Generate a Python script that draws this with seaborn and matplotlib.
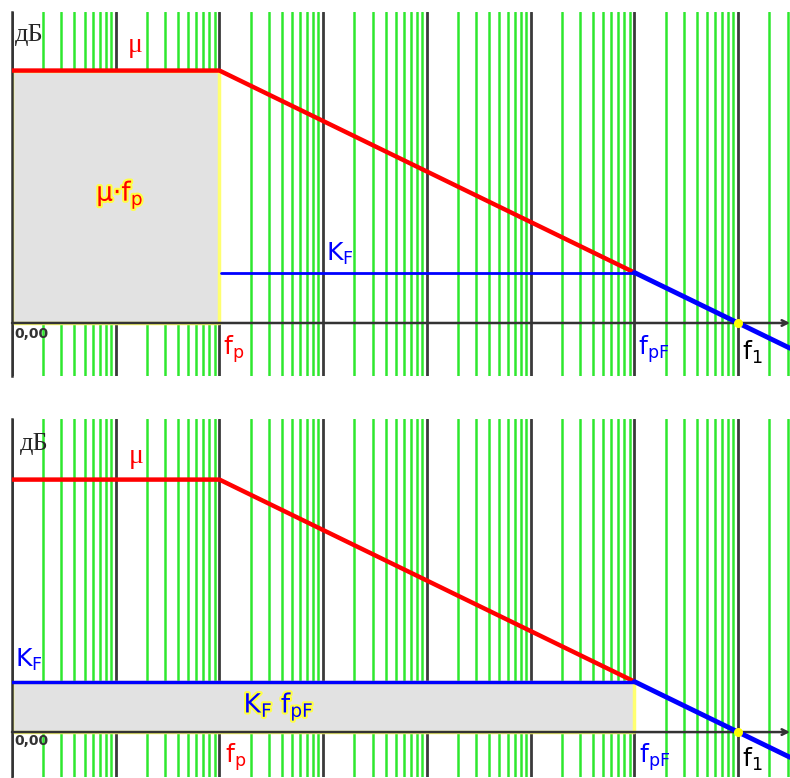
import numpy as np
import pandas as pd
import matplotlib.pyplot as plt
import matplotlib.patheffects as pe
from matplotlib.ticker import LogLocator, NullFormatter
import seaborn as sns

# Break frequencies (log axis, decades) and gains in dB
f_start = 1.0
fp = 1e2        # open-loop pole
fpF = 1e6       # closed-loop pole
f1 = 1e7        # unity gain frequency
f_end = 10 ** 7.5

mu_db = 100     # open-loop gain
kf_db = 20      # closed-loop gain

mu_freq = [f_start, fp, fpF]
mu_gain = [mu_db, mu_db, kf_db]
slope_freq = [fpF, f1, f_end]
slope_gain = [kf_db, 0, -10]

sns.set_style("white")
plt.rcParams['font.family'] = ['DejaVu Sans']
plt.rcParams['mathtext.default'] = 'regular'

fig = plt.figure(figsize=(7.9, 7.78), dpi=100)
ax_top = fig.add_axes([12 / 790, 402 / 778, 778 / 790, 364 / 778])
ax_bot = fig.add_axes([12 / 790, 1 / 778, 778 / 790, 358 / 778])

yellow = pe.withStroke(linewidth=3, foreground='#ffff44')


def setup(ax, ylim):
    ax.set_xscale('log')
    ax.set_xlim(f_start, f_end)
    ax.set_ylim(*ylim)
    ax.xaxis.set_major_locator(LogLocator(base=10, numticks=20))
    ax.xaxis.set_minor_locator(LogLocator(base=10, subs=np.arange(2, 10), numticks=100))
    ax.xaxis.set_minor_formatter(NullFormatter())
    ax.grid(True, which='minor', axis='x', color='#2ee82e', lw=1.8, zorder=0)
    ax.grid(True, which='major', axis='x', color='#3a3a3a', lw=2, zorder=0)
    ax.grid(False, axis='y')
    ax.set_axisbelow(True)
    ax.tick_params(which='both', length=0, labelbottom=False, labelleft=False)
    for s in ['top', 'right', 'bottom']:
        ax.spines[s].set_visible(False)
    ax.spines['left'].set_color('#333333')
    ax.spines['left'].set_linewidth(1.8)
    # horizontal 0 dB axis with arrow
    ax.annotate('', xy=(1.0, 0), xytext=(0.0, 0),
                xycoords=('axes fraction', 'data'), textcoords=('axes fraction', 'data'),
                arrowprops=dict(arrowstyle='->', color='#333333', lw=1.8,
                                shrinkA=0, shrinkB=0), zorder=3)
    ax.set_xlabel('')
    ax.set_ylabel('')


# ---------------- top panel: gain-bandwidth of open loop ----------------
ax = ax_top
setup(ax, (-21, 123.2))
ax.fill_between([f_start, fp], 0, mu_db, facecolor='#e2e2e2', edgecolor='#ffff70',
                lw=2.5, zorder=2)
sns.lineplot(x=mu_freq, y=mu_gain, ax=ax, color='red', lw=3.2, zorder=4)
sns.lineplot(x=[fp * 1.03, fpF], y=[kf_db, kf_db], ax=ax, color='blue', lw=2, zorder=4)
sns.lineplot(x=slope_freq, y=slope_gain, ax=ax, color='blue', lw=3.5, zorder=4)
ax.scatter([f1], [0], s=30, color='yellow', zorder=5)

ax.text(10 ** 0.03, 114, 'дБ', family='Liberation Serif', fontsize=19, va='center')
ax.text(10 ** 1.12, 110, 'μ', family='Liberation Serif', color='red', fontsize=20, va='center')
ax.text(10 ** 1.04, 50.7, 'μ·f$_p$', color='red', fontsize=19,
        ha='center', va='center', path_effects=[yellow])
ax.text(10 ** 3.03, 27.5, 'K$_F$', color='blue', fontsize=18, va='center')
ax.text(10 ** 2.03, -10.5, 'f$_p$', color='red', fontsize=18, va='center')
ax.text(10 ** 6.03, -10.5, 'f$_{pF}$', color='blue', fontsize=18, va='center')
ax.text(10 ** 7.04, -11.5, 'f$_1$', color='black', fontsize=18, va='center')
ax.text(10 ** 0.02, -4.5, '0,00', color='#333333', fontsize=10, fontweight='bold', va='center')

# ---------------- bottom panel: gain-bandwidth of closed loop ----------------
ax = ax_bot
setup(ax, (-17.8, 124))
ax.fill_between([f_start, fpF], 0, kf_db, facecolor='#e2e2e2', edgecolor='#ffff70',
                lw=2.5, zorder=2)
sns.lineplot(x=mu_freq, y=mu_gain, ax=ax, color='red', lw=3.2, zorder=4)
sns.lineplot(x=[f_start, fpF], y=[kf_db, kf_db], ax=ax, color='blue', lw=2.5, zorder=4)
sns.lineplot(x=slope_freq, y=slope_gain, ax=ax, color='blue', lw=3.5, zorder=4)
ax.scatter([f1], [0], s=30, color='yellow', zorder=5)

ax.text(10 ** 0.08, 114, 'дБ', family='Liberation Serif', fontsize=19, va='center')
ax.text(10 ** 1.13, 109, 'μ', family='Liberation Serif', color='red', fontsize=20, va='center')
ax.text(10 ** 0.03, 28.5, 'K$_F$', color='blue', fontsize=18, va='center')
ax.text(10 ** 2.57, 10, 'K$_F$ f$_{pF}$', color='blue', fontsize=19,
        ha='center', va='center', path_effects=[yellow])
ax.text(10 ** 2.05, -10, 'f$_p$', color='red', fontsize=18, va='center')
ax.text(10 ** 6.04, -10, 'f$_{pF}$', color='blue', fontsize=18, va='center')
ax.text(10 ** 7.04, -11, 'f$_1$', color='black', fontsize=18, va='center')
ax.text(10 ** 0.02, -3.5, '0,00', color='#333333', fontsize=10, fontweight='bold', va='center')

fig.savefig('out.png', dpi=100)
